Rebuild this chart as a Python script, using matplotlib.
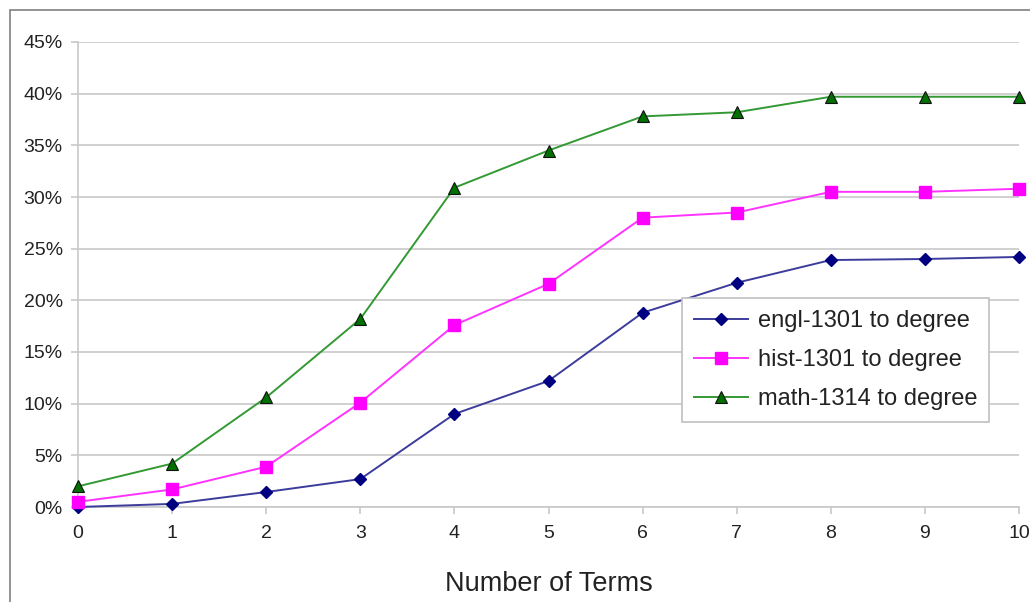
import matplotlib
matplotlib.use("Agg")
import matplotlib.pyplot as plt
from matplotlib.patches import Rectangle
from matplotlib.ticker import PercentFormatter

plt.rcParams['font.family'] = ['Liberation Sans', 'DejaVu Sans']

terms = [0, 1, 2, 3, 4, 5, 6, 7, 8, 9, 10]
engl = [0.0, 0.3, 1.45, 2.7, 9.0, 12.2, 18.8, 21.7, 23.9, 24.0, 24.2]
hist = [0.5, 1.7, 3.9, 10.1, 17.6, 21.6, 28.0, 28.5, 30.5, 30.5, 30.8]
math_ = [2.0, 4.2, 10.6, 18.2, 30.9, 34.5, 37.8, 38.2, 39.7, 39.7, 39.7]
labels = ["engl-1301 to degree", "hist-1301 to degree", "math-1314 to degree"]

fig = plt.figure(figsize=(10.3, 6.02), dpi=100)
ax = fig.add_axes([78 / 1030, 1 - 507 / 602, (1019 - 78) / 1030, (507 - 42) / 602])

# outer chart-area frame
fig.patches.append(Rectangle((10 / 1030, -0.1), 1.2, 1 - 10 / 602 + 0.1,
                             transform=fig.transFigure, fill=False,
                             edgecolor="#808080", linewidth=1.2))

ax.plot(terms, engl, color="#3c3c9c", lw=1.4, marker="D", ms=6.5,
        mfc="#000080", mec="#000080", label=labels[0], clip_on=False, zorder=3)
ax.plot(terms, hist, color="#ff33ff", lw=1.4, marker="s", ms=9,
        mfc="#ff00ff", mec="#ff00ff", label=labels[1], clip_on=False, zorder=3)
ax.plot(terms, math_, color="#339933", lw=1.4, marker="^", ms=9,
        mfc="#007000", mec="#111111", mew=0.8, label=labels[2], clip_on=False, zorder=3)

ax.set_xlim(0, 10)
ax.set_ylim(0, 45)
ax.set_xticks(terms)
ax.set_yticks(range(0, 46, 5))
ax.yaxis.set_major_formatter(PercentFormatter(decimals=0))
ax.grid(axis="y", color="#c8c8c8", lw=1.2)
ax.set_axisbelow(True)
for side in ("top", "right"):
    ax.spines[side].set_visible(False)
for side in ("left", "bottom"):
    ax.spines[side].set_color("#c8c8c8")
    ax.spines[side].set_linewidth(1.2)
ax.tick_params(axis="both", colors="#c8c8c8", length=5, width=1.2,
               labelcolor="#222222", labelsize=14)
ax.tick_params(axis="x", pad=8)
ax.tick_params(axis="y", pad=6)
ax.set_xlabel("Number of Terms", fontsize=19.5, color="#222222", labelpad=21)

leg = ax.legend(loc="upper left", bbox_to_anchor=((682 - 78) / 941, (507 - 298) / 465),
                fontsize=17, frameon=True, fancybox=False, framealpha=1,
                edgecolor="#c0c0c0", borderpad=0.5, labelspacing=0.72,
                handlelength=2.3, handletextpad=0.4, borderaxespad=0)
leg.get_frame().set_linewidth(1.2)
for t in leg.get_texts():
    t.set_color("#222222")

fig.savefig("out.png", dpi=100)
